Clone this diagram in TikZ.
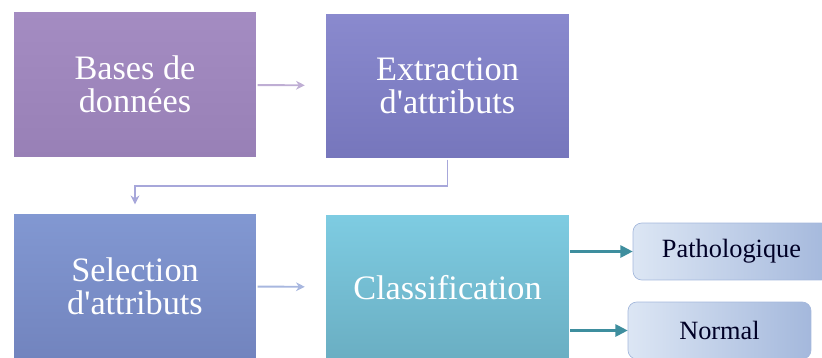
\documentclass[tikz,border=0pt]{standalone}
\usepackage{fontspec}
\setmainfont{Liberation Serif}[Ligatures=TeXOff]
\usetikzlibrary{arrows.meta}

\definecolor{lilas}{HTML}{A48CC2}
\definecolor{lilasdark}{HTML}{9880B6}
\definecolor{mauve}{HTML}{8A8ACE}
\definecolor{mauvedark}{HTML}{7676BC}
\definecolor{bleu}{HTML}{8298D2}
\definecolor{bleudark}{HTML}{7284BE}
\definecolor{cyanbox}{HTML}{7ECCE2}
\definecolor{cyandark}{HTML}{6AAEC2}
\definecolor{pale}{HTML}{DCE6F4}
\definecolor{paledark}{HTML}{A4B8DC}
\definecolor{teal}{HTML}{3E8E9E}

\begin{document}
\begin{tikzpicture}[x=0.02cm,y=-0.02cm,
    etape/.style={draw=white,line width=0.8pt,minimum width=4.88cm,minimum height=2.92cm,
        align=center,text=white,font=\fontsize{19.5}{19}\selectfont},
    sortie/.style={draw=paledark,rounded corners=5pt,minimum height=1.14cm,
        left color=pale,right color=paledark,text=black!85!blue,font=\fontsize{15}{17}\selectfont},
    lien/.style={line width=1.1pt,-{Stealth[length=5pt,width=5pt]}},
    fleche/.style={teal,line width=1.2pt,-{Triangle[length=7pt,width=7pt]}}]
    \useasboundingbox (0,0) rectangle (822,358);

    \node[etape,top color=lilas,bottom color=lilasdark](bases) at (135,84.5){Bases de\\données};
    \node[etape,top color=mauve,bottom color=mauvedark](extraction) at (447.5,86){Extraction\\d'attributs};
    \node[etape,top color=bleu,bottom color=bleudark](selection) at (135,286){Selection\\d'attributs};
    \node[etape,top color=cyanbox,bottom color=cyandark](classif) at (447.5,287.5){Classification};
    \node[sortie,minimum width=3.94cm](patho) at (731.5,251.5){Pathologique};
    \node[sortie,minimum width=3.66cm](normal) at (719.5,330.5){Normal};

    \draw[lien,lilas!70,shorten >=0.4cm](bases)--(extraction);
    \draw[lien,mauve!75,shorten >=0.16cm](extraction.south)--++(0,26)-|(selection.north);
    \draw[lien,bleu!70,shorten >=0.4cm](selection)--(classif);
    \draw[fleche](classif.east|-patho.west)--(patho.west);
    \draw[fleche](classif.east|-normal.west)--(normal.west);
\end{tikzpicture}
\end{document}
